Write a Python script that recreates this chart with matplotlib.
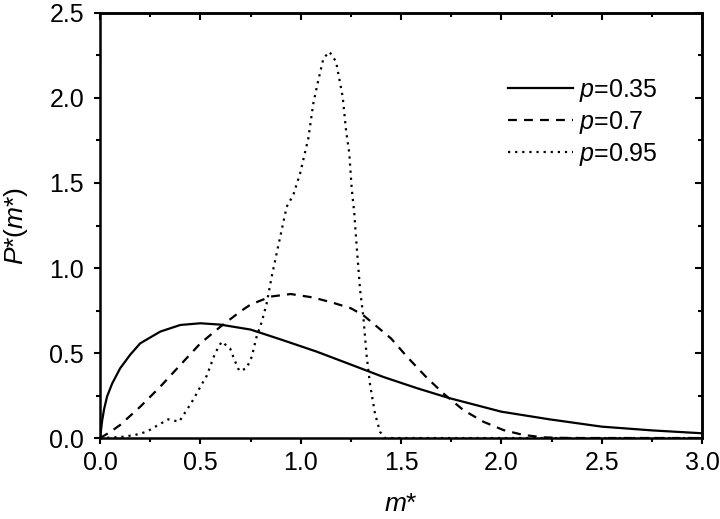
import matplotlib
matplotlib.use("Agg")
import matplotlib.pyplot as plt
from matplotlib.ticker import MultipleLocator, FormatStrFormatter

plt.rcParams['font.family'] = ['Liberation Sans', 'DejaVu Sans']
plt.rcParams['mathtext.fontset'] = 'custom'
plt.rcParams['mathtext.rm'] = 'Liberation Sans'
plt.rcParams['mathtext.it'] = 'Liberation Sans:italic'

# p = 0.35
m_a = [0.0, 0.01, 0.02, 0.035, 0.06, 0.1, 0.15, 0.2, 0.3, 0.4, 0.5, 0.6, 0.75,
       0.91, 1.08, 1.25, 1.41, 1.58, 1.74, 2.0, 2.24, 2.5, 2.75, 3.0]
p_a = [0.0, 0.1, 0.17, 0.245, 0.32, 0.41, 0.49, 0.557, 0.626, 0.665, 0.675,
       0.667, 0.638, 0.576, 0.508, 0.432, 0.36, 0.293, 0.235, 0.155, 0.11,
       0.067, 0.045, 0.028]

# p = 0.7
m_b = [0.0, 0.05, 0.1, 0.2, 0.3, 0.4, 0.5, 0.6, 0.7, 0.75, 0.85, 0.95, 1.06,
       1.16, 1.25, 1.31, 1.36, 1.45, 1.53, 1.62, 1.71, 1.81, 1.91, 2.01, 2.11,
       2.21, 2.3, 2.4, 3.0]
p_b = [0.0, 0.035, 0.077, 0.184, 0.302, 0.43, 0.557, 0.655, 0.745, 0.785,
       0.832, 0.847, 0.827, 0.796, 0.763, 0.724, 0.675, 0.586, 0.478, 0.365,
       0.263, 0.165, 0.096, 0.047, 0.018, 0.004, 0.001, 0.0, 0.0]

# p = 0.95
m_c = [0.0, 0.06, 0.116, 0.174, 0.232, 0.29, 0.34, 0.394, 0.432, 0.465, 0.498,
       0.531, 0.553, 0.573, 0.606, 0.648, 0.67, 0.694, 0.73, 0.756, 0.78, 0.806,
       0.83, 0.855, 0.88, 0.93, 0.963, 0.997, 1.038, 1.063, 1.088, 1.113, 1.143,
       1.176, 1.209, 1.226, 1.242, 1.254, 1.267, 1.279, 1.296, 1.312, 1.329,
       1.345, 1.37, 1.395, 1.42, 1.6, 3.0]
p_c = [0.0, 0.003, 0.008, 0.018, 0.037, 0.077, 0.11, 0.096, 0.165, 0.227, 0.298,
       0.365, 0.434, 0.498, 0.567, 0.527, 0.459, 0.394, 0.41, 0.478, 0.596, 0.684,
       0.79, 0.947, 1.086, 1.36, 1.43, 1.557, 1.763, 1.97, 2.106, 2.233, 2.272,
       2.214, 2.008, 1.81, 1.675, 1.469, 1.322, 1.125, 0.87, 0.714, 0.478, 0.32,
       0.145, 0.037, 0.0, 0.0, 0.0]

fig = plt.figure(figsize=(7.2, 5.19), dpi=100)
ax = fig.add_axes([0.139, 0.156, 0.836, 0.819])

ax.plot(m_a, p_a, color='black', lw=1.6, ls='-', label='$p$=0.35')
ax.plot(m_b, p_b, color='black', lw=1.6, ls=(0, (4, 3.2)), label='$p$=0.7')
ax.plot(m_c, p_c, color='black', lw=1.6, ls=(0, (1, 2.2)), label='$p$=0.95')

ax.set_xlim(0, 3.0)
ax.set_ylim(0, 2.5)
ax.xaxis.set_major_locator(MultipleLocator(0.5))
ax.xaxis.set_minor_locator(MultipleLocator(0.25))
ax.yaxis.set_major_locator(MultipleLocator(0.5))
ax.yaxis.set_minor_locator(MultipleLocator(0.25))
ax.xaxis.set_major_formatter(FormatStrFormatter('%.1f'))
ax.yaxis.set_major_formatter(FormatStrFormatter('%.1f'))

for s in ax.spines.values():
    s.set_linewidth(1.8)
ax.tick_params(which='major', direction='out', length=4.5, width=1.5, labelsize=18)
ax.tick_params(axis='x', which='major', pad=5)
ax.tick_params(axis='y', which='major', pad=7)
ax.tick_params(which='minor', direction='out', length=3, width=1.5)

# top/right inward ticks
ax_top = ax.secondary_xaxis('top')
ax_top.xaxis.set_major_locator(MultipleLocator(0.5))
ax_top.xaxis.set_minor_locator(MultipleLocator(0.25))
ax_top.tick_params(which='major', direction='in', length=5, width=1.5, labeltop=False)
ax_top.tick_params(which='minor', direction='in', length=3, width=1.5)
ax_top.spines['top'].set_linewidth(1.8)
ax_right = ax.secondary_yaxis('right')
ax_right.yaxis.set_major_locator(MultipleLocator(0.5))
ax_right.yaxis.set_minor_locator(MultipleLocator(0.25))
ax_right.tick_params(which='major', direction='in', length=5, width=1.5, labelright=False)
ax_right.tick_params(which='minor', direction='in', length=3, width=1.5)
ax_right.spines['right'].set_linewidth(1.8)

ax.set_xlabel('$m$*', fontsize=19, labelpad=12)
ax.set_ylabel('$P$*($m$*)', fontsize=19, labelpad=14)

ax.legend(loc='upper left', bbox_to_anchor=(0.678, 0.85), frameon=False, fontsize=18,
          handlelength=2.6, handletextpad=0.25, labelspacing=0.2,
          borderpad=0, borderaxespad=0)

fig.savefig('out.png', dpi=100)
